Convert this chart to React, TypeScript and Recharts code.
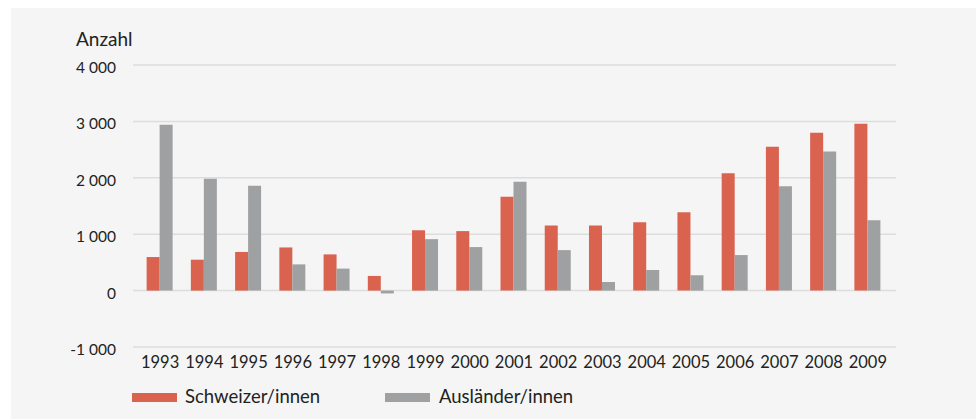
import React from "react";
import { BarChart, Bar, XAxis, YAxis, CartesianGrid } from "recharts";

const years = ["1993","1994","1995","1996","1997","1998","1999","2000","2001","2002","2003","2004","2005","2006","2007","2008","2009"];
const schweizer = [595, 548, 685, 765, 642, 260, 1070, 1055, 1665, 1155, 1155, 1212, 1390, 2080, 2550, 2800, 2960];
const auslaender = [2940, 1985, 1860, 465, 390, -50, 912, 772, 1930, 718, 153, 365, 272, 630, 1848, 2465, 1248];
const yTicks = [-1000, 0, 1000, 2000, 3000, 4000];

const data = years.map((y, i) => ({ year: y, schweizer: schweizer[i], auslaender: auslaender[i] }));

const RED = "#DA6350";
const GRAY = "#9FA0A1";
const FONT = "Lato, 'Noto Sans', sans-serif";

const fmt = (v: number) => {
  const s = Math.abs(v).toString().replace(/\B(?=(\d{3})+(?!\d))/g, " ");
  return (v < 0 ? "-" : "") + s;
};

const YTick = (props: any) => {
  const { x, y, payload } = props;
  return (
    <text x={x} y={y} dy={8} textAnchor="end" fill="#222" fontSize={15.5} fontFamily={FONT}>
      {fmt(payload.value)}
    </text>
  );
};

export default function App() {
  return (
    <div style={{ position: "absolute", left: 11, top: 8, width: 965, height: 411, background: "#F4F5F4", fontFamily: FONT }}>
      <div style={{ position: "absolute", left: 65, top: 19, fontSize: 19, color: "#222" }}>Anzahl</div>
      <BarChart
        width={965}
        height={411}
        data={data}
        margin={{ top: 57, right: 80, left: 0, bottom: 42 }}
        barCategoryGap="19.5%"
        barGap={0}
      >
        <CartesianGrid horizontal vertical={false} stroke="#DCDDDC" strokeWidth={1.5} />
        <XAxis
          dataKey="year"
          axisLine={false}
          tickLine={false}
          tickMargin={3}
          padding={{ left: 5, right: 6 }}
          interval={0}
          tick={{ fill: "#222", fontSize: 16.5, fontFamily: FONT }}
          height={30}
        />
        <YAxis
          width={122}
          domain={[-1000, 4000]}
          ticks={yTicks}
          axisLine={false}
          tickLine={false}
          tickMargin={11}
          interval={0}
          tick={<YTick />}
        />
        <Bar dataKey="schweizer" fill={RED} isAnimationActive={false} />
        <Bar dataKey="auslaender" fill={GRAY} isAnimationActive={false} />
      </BarChart>
      <div style={{ position: "absolute", left: 121, top: 385, width: 45, height: 9, background: RED }} />
      <div style={{ position: "absolute", left: 174, top: 376, fontSize: 18.5, color: "#222", lineHeight: "24px", whiteSpace: "nowrap" }}>Schweizer/innen</div>
      <div style={{ position: "absolute", left: 374, top: 385, width: 45, height: 9, background: GRAY }} />
      <div style={{ position: "absolute", left: 428, top: 376, fontSize: 18.5, color: "#222", lineHeight: "24px", whiteSpace: "nowrap" }}>Ausländer/innen</div>
    </div>
  );
}
